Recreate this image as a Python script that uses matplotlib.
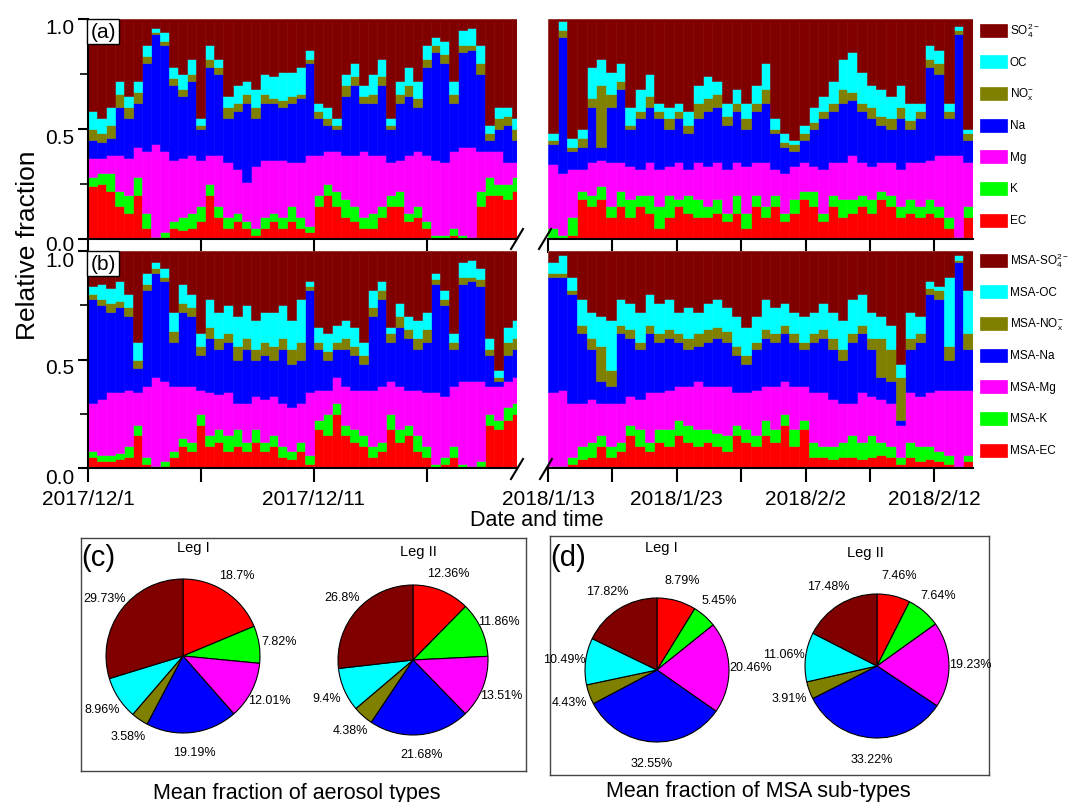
import numpy as np
import matplotlib.pyplot as plt
import matplotlib.transforms as mtransforms
from matplotlib.lines import Line2D
from matplotlib.patches import Rectangle

plt.rcParams['font.family'] = ['Liberation Sans', 'DejaVu Sans']
plt.rcParams['mathtext.default'] = 'regular'

# stack order, bottom to top
names = ['EC', 'K', 'Mg', 'Na', 'NO$_x^{-}$', 'OC', 'SO$_4^{2-}$']
colors = ['#ff0000', '#00ff00', '#ff00ff', '#0000ff', '#808000', '#00ffff', '#800000']

# sample spacing (days) for leg I (from 2017/12/1) and leg II (from 2018/1/13)
step1 = 0.4
step2 = 0.75

# (a) aerosol types, leg I: upper edge of each layer (cumulative fraction)
a1_ec = [.24, .25, .22, .15, .12, .20, .05, .00, .01, .05, .04, .05, .08, .20, .10, .05,
         .08, .05, .02, .05, .08, .05, .08, .05, .03, .15, .20, .15, .10, .08, .05, .05,
         .10, .15, .15, .08, .10, .05, .00, .00, .02, .00, .00, .15, .20, .20, .18, .22]
a1_k = [.28, .30, .30, .22, .20, .28, .12, .01, .03, .08, .10, .12, .15, .25, .15, .10,
        .12, .08, .05, .10, .12, .10, .15, .10, .06, .20, .25, .22, .18, .15, .10, .12,
        .15, .20, .22, .12, .15, .08, .02, .02, .05, .02, .01, .22, .28, .25, .25, .28]
a1_mg = [.37, .37, .38, .38, .37, .42, .40, .43, .40, .36, .37, .38, .36, .38, .38, .35,
         .32, .26, .33, .36, .36, .36, .35, .35, .38, .38, .40, .40, .38, .38, .40, .38,
         .38, .35, .36, .38, .40, .38, .36, .35, .40, .42, .42, .40, .40, .40, .35, .35]
a1_na = [.45, .44, .46, .60, .55, .62, .80, .93, .88, .70, .65, .72, .50, .78, .75, .55,
         .58, .62, .55, .62, .62, .60, .62, .64, .80, .55, .52, .50, .65, .70, .62, .62,
         .70, .50, .62, .65, .60, .78, .85, .80, .62, .85, .86, .75, .45, .50, .52, .45]
a1_nox = [.50, .48, .52, .66, .60, .67, .83, .94, .90, .73, .68, .75, .52, .82, .78, .60,
          .62, .66, .60, .66, .64, .63, .65, .66, .82, .58, .55, .52, .70, .74, .65, .66,
          .74, .52, .66, .70, .64, .82, .88, .84, .66, .88, .88, .80, .48, .55, .56, .50]
a1_oc = [.58, .55, .60, .72, .65, .72, .88, .96, .94, .78, .75, .82, .55, .88, .82, .65,
         .70, .72, .68, .75, .74, .76, .76, .78, .86, .62, .60, .55, .75, .80, .70, .75,
         .82, .55, .72, .78, .72, .88, .92, .90, .72, .95, .96, .88, .52, .60, .60, .55]

# (a) aerosol types, leg II
a2_ec = [.00, .00, .02, .18, .15, .18, .10, .15, .10, .15, .12, .05, .10, .15, .12, .10,
         .10, .12, .08, .12, .05, .15, .10, .15, .08, .12, .18, .15, .08, .15, .10, .12,
         .15, .12, .18, .15, .10, .12, .10, .12, .10, .05, .00, .10]
a2_k = [.05, .02, .10, .22, .20, .24, .15, .22, .18, .20, .20, .15, .20, .18, .20, .18,
        .15, .18, .12, .20, .12, .20, .15, .20, .12, .18, .22, .22, .12, .20, .18, .18,
        .20, .18, .22, .20, .15, .18, .15, .18, .15, .10, .01, .15]
a2_mg = [.34, .30, .32, .32, .35, .36, .35, .35, .33, .32, .35, .32, .33, .35, .32, .35,
         .33, .35, .32, .35, .33, .35, .35, .32, .30, .33, .35, .33, .32, .35, .35, .38,
         .35, .33, .35, .35, .32, .35, .35, .36, .38, .38, .38, .35]
a2_na = [.43, .92, .40, .42, .60, .42, .60, .68, .50, .55, .60, .55, .50, .55, .48, .55,
         .58, .60, .52, .58, .50, .58, .62, .48, .42, .40, .45, .50, .55, .58, .62, .63,
         .58, .55, .52, .50, .55, .50, .55, .78, .75, .55, .93, .45]
a2_nox = [.45, .95, .42, .46, .64, .70, .66, .72, .52, .58, .65, .58, .55, .58, .52, .62,
          .64, .66, .56, .62, .55, .62, .68, .50, .44, .43, .48, .53, .58, .62, .68, .67,
          .62, .60, .56, .55, .60, .54, .58, .82, .80, .58, .95, .48]
a2_oc = [.48, .99, .46, .50, .78, .82, .76, .80, .60, .68, .75, .62, .60, .62, .58, .70,
         .74, .72, .62, .68, .62, .70, .80, .55, .48, .45, .52, .60, .65, .72, .82, .85,
         .76, .70, .68, .65, .70, .62, .62, .88, .86, .62, .97, .50]

# (b) MSA sub-types, leg I
b1_ec = [.05, .03, .03, .04, .05, .15, .02, .00, .01, .05, .10, .08, .20, .10, .12, .08,
         .10, .08, .12, .08, .10, .05, .04, .08, .02, .18, .15, .25, .15, .12, .10, .05,
         .08, .18, .12, .15, .08, .05, .00, .02, .05, .00, .00, .01, .20, .18, .22, .25]
b1_k = [.08, .06, .06, .07, .10, .20, .05, .01, .03, .08, .14, .12, .25, .15, .18, .15,
        .18, .12, .18, .12, .15, .10, .08, .12, .06, .22, .25, .30, .20, .18, .15, .10,
        .12, .25, .18, .20, .15, .10, .02, .05, .10, .02, .01, .03, .25, .22, .28, .30]
b1_mg = [.30, .32, .35, .35, .36, .35, .38, .42, .40, .38, .38, .38, .36, .35, .34, .35,
         .30, .30, .33, .32, .33, .30, .28, .30, .35, .36, .36, .42, .38, .36, .36, .36,
         .38, .40, .38, .36, .36, .35, .35, .33, .38, .40, .40, .40, .38, .38, .40, .42]
b1_na = [.78, .75, .72, .74, .70, .46, .82, .90, .86, .58, .72, .70, .52, .60, .55, .58,
         .50, .55, .50, .52, .50, .55, .48, .50, .82, .55, .50, .55, .55, .52, .48, .70,
         .78, .58, .65, .60, .55, .58, .85, .75, .55, .85, .86, .84, .52, .40, .52, .55]
b1_nox = [.80, .78, .76, .77, .74, .50, .85, .92, .88, .63, .76, .74, .56, .65, .60, .62,
          .56, .60, .55, .58, .56, .60, .55, .58, .84, .58, .54, .58, .60, .56, .52, .74,
          .82, .62, .70, .64, .60, .64, .87, .78, .58, .88, .88, .87, .55, .42, .58, .60]
b1_oc = [.84, .85, .83, .86, .80, .58, .90, .95, .92, .72, .85, .80, .62, .78, .72, .75,
         .70, .75, .68, .72, .72, .75, .68, .78, .86, .65, .62, .66, .68, .65, .58, .82,
         .86, .65, .76, .70, .68, .72, .90, .82, .62, .95, .96, .92, .60, .45, .65, .68]

# (b) MSA sub-types, leg II
b2_ec = [.00, .00, .02, .04, .05, .10, .05, .08, .15, .10, .08, .12, .10, .15, .12, .10,
         .12, .10, .08, .15, .12, .10, .15, .12, .20, .10, .18, .05, .05, .04, .05, .05,
         .04, .05, .06, .05, .02, .05, .03, .04, .03, .02, .00, .03]
b2_k = [.01, .01, .05, .10, .12, .15, .10, .12, .20, .18, .12, .18, .18, .22, .20, .18,
        .18, .16, .15, .20, .18, .15, .22, .18, .25, .18, .22, .12, .10, .10, .12, .15,
        .12, .15, .12, .10, .05, .12, .10, .10, .08, .06, .01, .06]
b2_mg = [.35, .36, .30, .30, .32, .30, .30, .30, .33, .32, .35, .35, .36, .38, .38, .40,
         .38, .38, .38, .35, .35, .36, .38, .38, .40, .38, .38, .35, .35, .32, .30, .30,
         .35, .33, .32, .30, .20, .35, .33, .35, .36, .36, .36, .36]
b2_na = [.88, .88, .80, .62, .55, .40, .38, .62, .60, .55, .62, .58, .60, .58, .55, .56,
         .58, .60, .58, .52, .48, .55, .60, .58, .62, .58, .55, .58, .60, .55, .50, .58,
         .62, .55, .42, .40, .22, .55, .58, .80, .78, .50, .95, .55]
b2_nox = [.90, .90, .82, .66, .60, .56, .45, .66, .64, .58, .66, .62, .64, .62, .60, .62,
          .64, .65, .63, .56, .52, .58, .64, .62, .66, .62, .58, .62, .64, .60, .55, .62,
          .66, .60, .60, .55, .42, .60, .62, .83, .82, .56, .96, .62]
b2_oc = [.95, .98, .88, .78, .72, .70, .68, .78, .76, .72, .80, .76, .78, .72, .74, .72,
         .76, .78, .74, .70, .65, .70, .78, .74, .76, .72, .70, .72, .76, .72, .68, .78,
         .80, .72, .70, .66, .48, .72, .70, .86, .84, .88, .98, .82]

# mean fractions (%) in the pies, same order as the stack
pie_c1 = [18.7, 7.82, 12.01, 19.19, 3.58, 8.96, 29.73]
pie_c2 = [12.36, 11.86, 13.51, 21.68, 4.38, 9.4, 26.8]
pie_d1 = [8.79, 5.45, 20.46, 32.55, 4.43, 10.49, 17.82]
pie_d2 = [7.46, 7.64, 19.23, 33.22, 3.91, 11.06, 17.48]

leg1_ticks = ['2017/12/1', '', '2017/12/11', '']
leg2_ticks = ['2018/1/13', '', '2018/1/23', '', '2018/2/2', '', '2018/2/12']

W, H = 1089, 803
fig = plt.figure(figsize=(W / 100, H / 100), dpi=100)


def px_axes(x0, y0, x1, y1):
    return fig.add_axes([x0 / W, 1 - y1 / H, (x1 - x0) / W, (y1 - y0) / H])


def draw_stack(ax, step, tops):
    n = len(tops[0])
    t = np.arange(n) * step
    lower = np.zeros(n)
    for top, c in zip(tops + [np.ones(n)], colors):
        top = np.maximum(np.asarray(top, dtype=float), lower)
        ax.bar(t, top - lower, width=step, bottom=lower, align='edge',
               color=c, edgecolor=c, linewidth=0.4)
        lower = top
    ax.set_ylim(0, 1)


aL = px_axes(88, 20, 517, 240)
aR = px_axes(548, 20, 973, 240)
bL = px_axes(88, 252, 517, 469)
bR = px_axes(548, 252, 973, 469)

draw_stack(aL, step1, [a1_ec, a1_k, a1_mg, a1_na, a1_nox, a1_oc])
draw_stack(aR, step2, [a2_ec, a2_k, a2_mg, a2_na, a2_nox, a2_oc])
draw_stack(bL, step1, [b1_ec, b1_k, b1_mg, b1_na, b1_nox, b1_oc])
draw_stack(bR, step2, [b2_ec, b2_k, b2_mg, b2_na, b2_nox, b2_oc])

# y tick labels sit a little below their ticks in the original (pixels, for 0.0/0.5/1.0)
label_drop = {aL: [3.5, 6, 6], bL: [8, 6, 7.5]}

for ax in (aL, bL):
    ax.set_xlim(0, 19)
    ax.set_xticks([0, 5, 10, 15])
    ax.set_xticklabels(leg1_ticks if ax is bL else [''] * 4)
    ax.set_yticks([0, 0.5, 1.0])
    ax.set_yticklabels(['0.0', '0.5', '1.0'])
    ax.set_yticks([0.25, 0.75], minor=True)
    ax.spines[['top', 'right']].set_visible(False)
    ax.tick_params(axis='y', which='major', length=7, width=1.5, labelsize=15, pad=3)
    ax.tick_params(axis='y', which='minor', length=6, width=1.2)
    for lab, d in zip(ax.get_yticklabels(), label_drop[ax]):
        off = mtransforms.ScaledTranslation(0, -d / 100, fig.dpi_scale_trans)
        lab.set_transform(lab.get_transform() + off)
for ax in (aR, bR):
    ax.set_xlim(0, 33)
    ax.set_xticks([0, 5, 10, 15, 20, 25, 30])
    ax.set_xticklabels(leg2_ticks if ax is bR else [''] * 7)
    ax.set_yticks([])
    ax.spines[['top', 'right', 'left']].set_visible(False)
for ax in (aL, aR, bL, bR):
    ax.tick_params(axis='x', length=10, width=1.5, labelsize=15, pad=5)
    for s in ax.spines.values():
        s.set_linewidth(1.5)

for ax, lab in ((aL, '(a)'), (bL, '(b)')):
    ax.text(0.006, 0.985, lab, transform=ax.transAxes, ha='left', va='top', fontsize=15,
            bbox=dict(facecolor='white', edgecolor='black', linewidth=1,
                      boxstyle='square,pad=0.15'))

# axis break marks
for x0, y0 in [(511, 250), (539, 250), (511, 480), (540, 480)]:
    fig.add_artist(Line2D([x0 / W, (x0 + 12) / W], [1 - y0 / H, 1 - (y0 - 20) / H],
                          transform=fig.transFigure, color='black', lw=1.5))

fig.text(28 / W, 1 - 245 / H, 'Relative fraction', rotation=90, ha='center', va='center',
         fontsize=19)
fig.text(537 / W, 1 - 521 / H, 'Date and time', ha='center', va='center', fontsize=15.5)


# legends, SO4 on top
def draw_legend(y0, prefix):
    for i in range(7):
        j = 6 - i
        yc = y0 + i * 31.7
        fig.add_artist(Rectangle((980 / W, 1 - (yc + 6.5) / H), 27 / W, 13 / H,
                                 transform=fig.transFigure, facecolor=colors[j],
                                 edgecolor=colors[j], lw=0.5))
        fig.text(1010 / W, 1 - yc / H, prefix + names[j], fontsize=8.5, ha='left', va='center')


draw_legend(31, '')
draw_legend(261, 'MSA-')

# pie panels
for x0, y0, x1, y1 in [(81, 539, 526, 772), (550, 537, 989, 776)]:
    box = px_axes(x0, y0, x1, y1)
    box.set_xticks([])
    box.set_yticks([])
    for s in box.spines.values():
        s.set_color('#444444')
        s.set_linewidth(1)


def draw_pie(cx, cy, r, vals, ld):
    ax = px_axes(cx - 1.6 * r, cy - 1.6 * r, cx + 1.6 * r, cy + 1.6 * r)
    wedges, texts = ax.pie(vals, colors=colors, startangle=90, counterclock=False,
                           labels=[f'{v}%' for v in vals], labeldistance=ld,
                           wedgeprops=dict(edgecolor='black', linewidth=0.8),
                           textprops=dict(fontsize=9))
    for tx in texts:
        tx.set_ha('center')
        tx.set_va('center')
    ax.set_xlim(-1.6, 1.6)
    ax.set_ylim(-1.6, 1.6)


draw_pie(183, 657, 77, pie_c1, 1.26)
draw_pie(413, 661, 75, pie_c2, 1.26)
draw_pie(657, 671, 72, pie_d1, 1.3)
draw_pie(877, 667, 72, pie_d2, 1.3)

for x, y, s in [(193, 548, 'Leg I'), (418, 552, 'Leg II'), (661, 548, 'Leg I'), (865, 553, 'Leg II')]:
    fig.text(x / W, 1 - y / H, s, ha='center', va='center', fontsize=10.5)
fig.text(98 / W, 1 - 558 / H, '(c)', ha='center', va='center', fontsize=21)
fig.text(568 / W, 1 - 558 / H, '(d)', ha='center', va='center', fontsize=21)
fig.text(297 / W, 1 - 794 / H, 'Mean fraction of aerosol types', ha='center', va='center',
         fontsize=15.5)
fig.text(758 / W, 1 - 792 / H, 'Mean fraction of MSA sub-types', ha='center', va='center',
         fontsize=15.5)

fig.savefig('out.png', dpi=100)
